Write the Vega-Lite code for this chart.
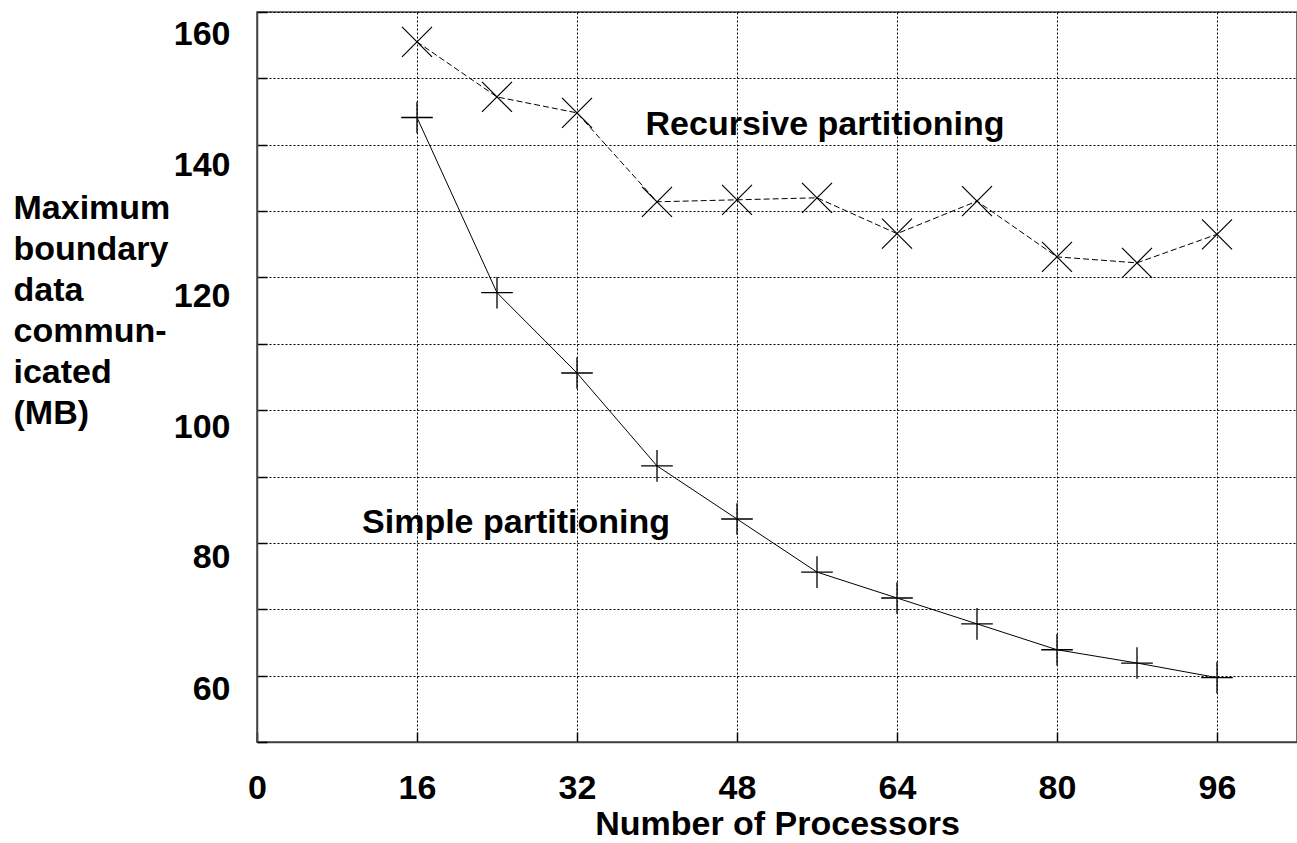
{
  "$schema": "https://vega.github.io/schema/vega-lite/v6.json",
  "width": 1040,
  "height": 730,
  "autosize": {"type": "none"},
  "padding": {"left": 257, "top": 12, "right": 0, "bottom": 101},
  "background": "white",
  "config": {
    "view": {"stroke": "#444", "strokeWidth": 1.5},
    "axis": {
      "labelFont": "Liberation Sans",
      "labelFontWeight": "bold",
      "labelFontSize": 34,
      "labelColor": "#000",
      "labelFlush": false,
      "titleFont": "Liberation Sans",
      "titleFontWeight": "bold",
      "titleFontSize": 34,
      "titleColor": "#000",
      "domainColor": "#444",
      "domainWidth": 1.5,
      "gridColor": "#000",
      "gridDash": [2, 2],
      "gridWidth": 1,
      "gridOpacity": 1,
      "tickColor": "#000",
      "tickWidth": 1.5,
      "tickSize": -10
    }
  },
  "datasets": {
    "simple": [
      {"procs": 16, "mb": 144.1},
      {"procs": 24, "mb": 117.7},
      {"procs": 32, "mb": 105.6},
      {"procs": 40, "mb": 91.6},
      {"procs": 48, "mb": 83.6},
      {"procs": 56, "mb": 75.6},
      {"procs": 64, "mb": 71.7},
      {"procs": 72, "mb": 67.8},
      {"procs": 80, "mb": 63.9},
      {"procs": 88, "mb": 61.9},
      {"procs": 96, "mb": 59.7}
    ],
    "recursive": [
      {"procs": 16, "mb": 155.5},
      {"procs": 24, "mb": 147.2},
      {"procs": 32, "mb": 144.8},
      {"procs": 40, "mb": 131.4},
      {"procs": 48, "mb": 131.7},
      {"procs": 56, "mb": 132.0},
      {"procs": 64, "mb": 126.6},
      {"procs": 72, "mb": 131.5},
      {"procs": 80, "mb": 123.1},
      {"procs": 88, "mb": 122.2},
      {"procs": 96, "mb": 126.5}
    ],
    "labels": [
      {"procs": 25.9, "mb": 81.5, "text": "Simple partitioning"},
      {"procs": 56.8, "mb": 141.5, "text": "Recursive partitioning"}
    ]
  },
  "encoding": {
    "x": {
      "field": "procs",
      "type": "quantitative",
      "scale": {"domain": [0, 104], "nice": false, "zero": false},
      "axis": {
        "values": [0, 16, 32, 48, 64, 80, 96],
        "title": "Number of Processors",
        "labelPadding": 39,
        "labelBaseline": "top",
        "titleBaseline": "alphabetic",
        "titleY": 92
      }
    },
    "y": {
      "field": "mb",
      "type": "quantitative",
      "scale": {"domain": [50, 160], "nice": false, "zero": false},
      "axis": {
        "values": [50, 60, 70, 80, 90, 100, 110, 120, 130, 140, 150, 160],
        "labelExpr": "datum.value % 20 == 0 ? datum.label : ''",
        "labelPadding": 37,
        "labelOffset": {
          "condition": [
            {"test": "datum.value >= 150", "value": 22},
            {"test": "datum.value >= 130", "value": 21},
            {"test": "datum.value >= 110", "value": 19},
            {"test": "datum.value >= 90", "value": 17},
            {"test": "datum.value >= 70", "value": 15}
          ],
          "value": 13.5
        },
        "title": ["Maximum", "boundary", "data", "commun-", "icated", "(MB)"],
        "titleAngle": 0,
        "titleAlign": "left",
        "titleBaseline": "alphabetic",
        "titleX": -244,
        "titleY": 206,
        "titleLineHeight": 41
      }
    }
  },
  "layer": [
    {
      "data": {"name": "simple"},
      "mark": {"type": "line", "color": "#000", "strokeWidth": 1}
    },
    {
      "data": {"name": "simple"},
      "mark": {"type": "point", "shape": "M-1,0H1M0,-1V1", "size": 1000, "filled": false, "stroke": "#000", "strokeWidth": 1.3, "opacity": 1}
    },
    {
      "data": {"name": "recursive"},
      "mark": {"type": "line", "color": "#000", "strokeWidth": 1, "strokeDash": [6, 3]}
    },
    {
      "data": {"name": "recursive"},
      "mark": {"type": "point", "shape": "M-1,-1L1,1M1,-1L-1,1", "size": 900, "filled": false, "stroke": "#000", "strokeWidth": 1.2, "opacity": 1}
    },
    {
      "data": {"name": "labels"},
      "mark": {"type": "text", "font": "Liberation Sans", "fontWeight": "bold", "fontSize": 34, "align": "center", "baseline": "alphabetic", "color": "#000"},
      "encoding": {"text": {"field": "text"}}
    }
  ]
}
